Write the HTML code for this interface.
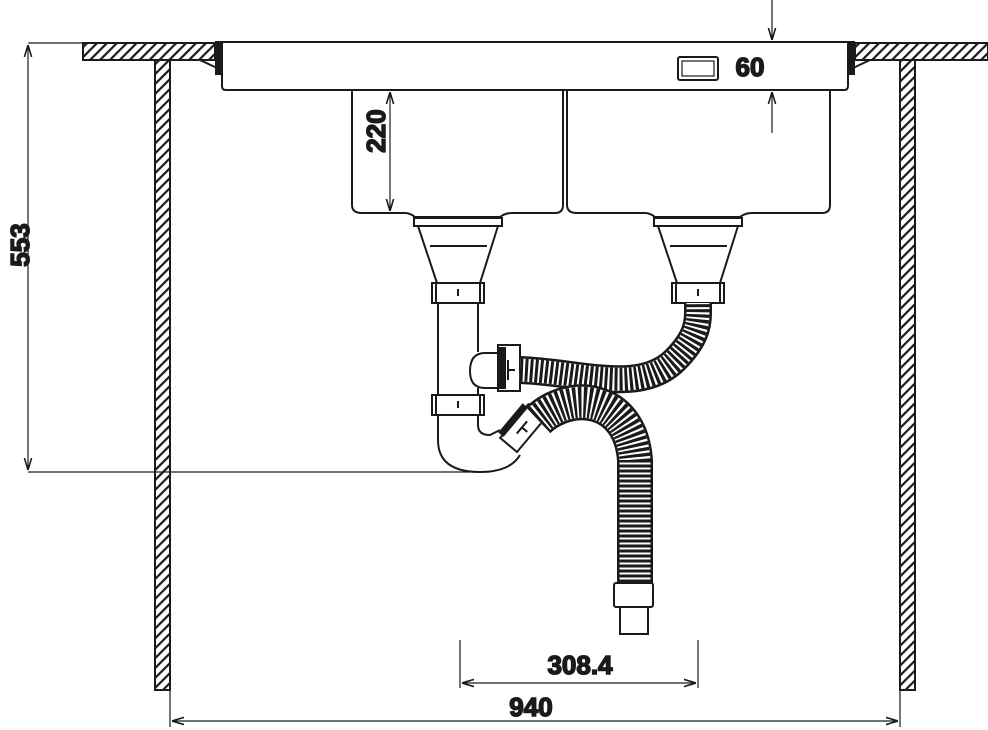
<!DOCTYPE html>
<html><head><meta charset="utf-8"><style>
html,body{margin:0;padding:0;background:#fff;}
svg{display:block;}
text{font-family:"Liberation Sans",sans-serif;font-weight:bold;font-size:26px;fill:#1a1a1a;}
</style></head><body>
<svg width="988" height="730" viewBox="0 0 988 730" xmlns="http://www.w3.org/2000/svg">
<defs>
<pattern id="h" width="7" height="7" patternUnits="userSpaceOnUse" patternTransform="rotate(45)">
<rect width="7" height="7" fill="#fff"/><rect width="2.2" height="7" fill="#1a1a1a"/>
</pattern>
<marker id="a" viewBox="0 0 10 10" refX="10" refY="5" markerWidth="12" markerHeight="12" markerUnits="userSpaceOnUse" orient="auto-start-reverse">
<path d="M0,2 L10,5 L0,8" fill="none" stroke="#1a1a1a" stroke-width="1.3"/>
</marker>
</defs>
<g stroke="#1a1a1a" fill="none" stroke-width="1.5">
<rect x="83" y="43" width="132" height="17" fill="url(#h)" stroke-width="2"/>
<rect x="855" y="43" width="133" height="17" fill="url(#h)" stroke-width="2"/>
<rect x="155" y="60" width="15" height="630" fill="url(#h)" stroke-width="2"/>
<rect x="900" y="60" width="15" height="630" fill="url(#h)" stroke-width="2"/>
<rect x="215" y="43" width="6" height="32" fill="#1a1a1a" stroke="none"/>
<path d="M200,60 L217,68" stroke-width="2"/>
<rect x="849" y="43" width="6" height="32" fill="#1a1a1a" stroke="none"/>
<path d="M870,60 L853,68" stroke-width="2"/>
<path d="M215,42 L855,42 M222,42 L222,86 Q222,90 226,90 L844,90 Q848,90 848,86 L848,42" stroke-width="2"/>
<rect x="678" y="57" width="40" height="23" rx="2" stroke-width="2"/>
<rect x="682" y="61" width="32" height="15" stroke-width="1.2"/>
<path d="M352,90 L352,205 Q352,213 362,213 L405,213 Q410,213 415,217 L500,217 Q505,213 512,213 L555,213 Q563,213 563,205 L563,90" stroke-width="2"/>
<path d="M567,90 L567,205 Q567,213 577,213 L645,213 Q650,213 655,217 L740,217 Q745,213 752,213 L822,213 Q830,213 830,205 L830,90" stroke-width="2"/>
<g stroke-width="2">
<rect x="414" y="218" width="88" height="8"/>
<path d="M418,226 L437,283 M498,226 L480,283 M430,246 L487,246"/>
<rect x="654" y="218" width="88" height="8"/>
<path d="M658,226 L677,283 M738,226 L720,283 M670,246 L727,246"/>
<rect x="432" y="283" width="52" height="20"/>
<path d="M436,283 L436,303 M480,283 L480,303 M458,289 L458,296"/>
<rect x="672" y="283" width="52" height="20"/>
<path d="M676,283 L676,303 M720,283 L720,303 M698,289 L698,296"/>
<path d="M438,303 L438,395 M478,303 L478,352 M478,388 L478,395"/>
<rect x="432" y="395" width="52" height="20"/>
<path d="M436,395 L436,415 M480,395 L480,415 M458,401 L458,408"/>
<path d="M498,353 L485,353 Q470,353 470,371 Q470,388 485,388 L498,388"/>
<rect x="498" y="345" width="22" height="46"/>
<rect x="500" y="348" width="5" height="40" fill="#1a1a1a"/>
<path d="M508,360 L508,380 M508,370 L515,370"/>
<path d="M438,415 L438,440 Q438,472 480,472 Q510,472 520,455 M478,415 L478,425 Q478,435 490,435 L500,430"/>
<g transform="translate(525,430) rotate(40)">
<rect x="-14" y="-22" width="22" height="44" fill="#fff"/>
<rect x="-18" y="-18" width="5" height="36" fill="#1a1a1a"/>
<path d="M-4,-8 L-4,8 M-4,0 L3,0"/>
</g>
</g>
<g stroke-linecap="butt">
<path d="M520,370 C580,372 640,395 675,360 C700,335 698,320 698,303" stroke="#1a1a1a" stroke-width="28"/>
<path d="M520,370 C580,372 640,395 675,360 C700,335 698,320 698,303" stroke="#fff" stroke-width="23"/>
<path d="M520,370 C580,372 640,395 675,360 C700,335 698,320 698,303" stroke="#1a1a1a" stroke-width="23" stroke-dasharray="3 2"/>
<path d="M538,420 C570,390 630,395 635,460 L635,583" stroke="#1a1a1a" stroke-width="36"/>
<path d="M538,420 C570,390 630,395 635,460 L635,583" stroke="#fff" stroke-width="31"/>
<path d="M538,420 C570,390 630,395 635,460 L635,583" stroke="#1a1a1a" stroke-width="31" stroke-dasharray="3 2"/>
</g>
<g stroke="#1a1a1a" fill="#fff" stroke-width="2">
<rect x="614" y="583" width="39" height="24" rx="2"/>
<rect x="620" y="607" width="28" height="27"/>
</g>
<g stroke="#1a1a1a" stroke-width="1.2" fill="none">
<path d="M28,43 L83,43 M28,472 L490,472"/>
<path d="M28,45 L28,470" marker-start="url(#a)" marker-end="url(#a)"/>
<path d="M390,92 L390,211" marker-start="url(#a)" marker-end="url(#a)"/>
<path d="M772,0 L772,40" marker-end="url(#a)"/>
<path d="M772,133 L772,92" marker-end="url(#a)"/>
<path d="M460,640 L460,688 M698,640 L698,688"/>
<path d="M462,683 L696,683" marker-start="url(#a)" marker-end="url(#a)"/>
<path d="M170,690 L170,727 M900,690 L900,727"/>
<path d="M172,721 L898,721" marker-start="url(#a)" marker-end="url(#a)"/>
</g>
<text x="20" y="245" text-anchor="middle" transform="rotate(-90 20 245)" dy="9">553</text>
<text x="376" y="131" text-anchor="middle" transform="rotate(-90 376 131)" dy="9">220</text>
<text x="750" y="76" text-anchor="middle">60</text>
<text x="580" y="674" text-anchor="middle">308.4</text>
<text x="531" y="716" text-anchor="middle">940</text>
</svg>
</body></html>
